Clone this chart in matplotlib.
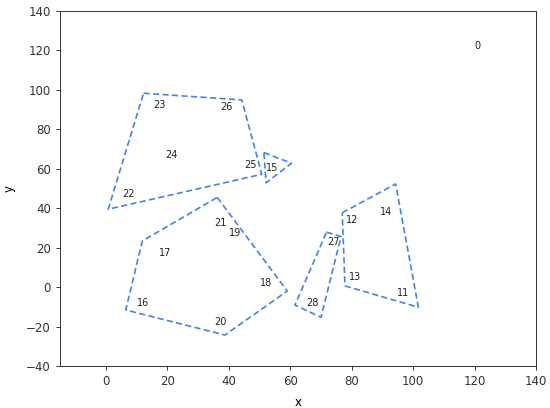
import matplotlib
matplotlib.use("Agg")
import matplotlib.pyplot as plt

# point labels (ids) and their positions
label_ids = [0, 11, 12, 13, 14, 15, 16, 17, 18, 19, 20, 21, 22, 23, 24, 25, 26, 27, 28]
label_x = [120.8, 96.8, 80.0, 81.1, 91.1, 54.2, 12.0, 19.2, 52.0, 42.0, 37.3, 37.1, 7.3, 17.3, 21.4, 47.1, 39.1, 74.0, 67.3]
label_y = [122.3, -2.8, 34.0, 5.0, 38.2, 60.2, -8.2, 17.4, 2.2, 27.3, -17.8, 32.4, 47.1, 92.3, 67.0, 61.9, 91.1, 23.0, -8.2]

# cluster hull polygons (vertex lists)
hull_a_x = [12.2, 44.2, 50.7, 0.7]
hull_a_y = [98.3, 94.9, 57.2, 39.5]
hull_b_x = [51.4, 60.4, 52.1]
hull_b_y = [68.2, 62.8, 52.9]
hull_c_x = [36.2, 59.0, 38.7, 6.4, 11.8]
hull_c_y = [45.5, -2.0, -24.3, -11.6, 23.4]
hull_d_x = [76.9, 94.3, 101.7, 77.8]
hull_d_y = [37.7, 52.3, -10.2, 0.6]
hull_e_x = [71.8, 76.5, 70.0, 61.5]
hull_e_y = [27.9, 25.6, -15.3, -9.1]

hulls = [(hull_a_x, hull_a_y), (hull_b_x, hull_b_y), (hull_c_x, hull_c_y),
         (hull_d_x, hull_d_y), (hull_e_x, hull_e_y)]

fig = plt.figure(figsize=(5.5, 4.08), dpi=100)
ax = fig.add_axes([60 / 550, 42 / 408, 476 / 550, 355 / 408])

line_color = "#4483e3"
for hx, hy in hulls:
    ax.plot(hx + hx[:1], hy + hy[:1], linestyle="--", color=line_color,
            linewidth=1.2, dashes=(3.7, 2.0))

for i, x, y in zip(label_ids, label_x, label_y):
    ax.text(x, y, str(i), ha="center", va="center", fontsize=7, color="#222222")

ax.set_xlim(-15, 140)
ax.set_ylim(-40, 140)
ax.set_xticks(range(0, 141, 20))
ax.set_yticks(range(-40, 141, 20))
ax.tick_params(labelsize=8.5, length=3, width=0.7, colors="#333333")
for s in ax.spines.values():
    s.set_linewidth(0.7)
    s.set_color("#333333")
ax.set_xlabel("x", fontsize=8.5, labelpad=6)
ax.set_ylabel("y", fontsize=8.5, labelpad=7.5)

fig.savefig("out.png", dpi=100)
